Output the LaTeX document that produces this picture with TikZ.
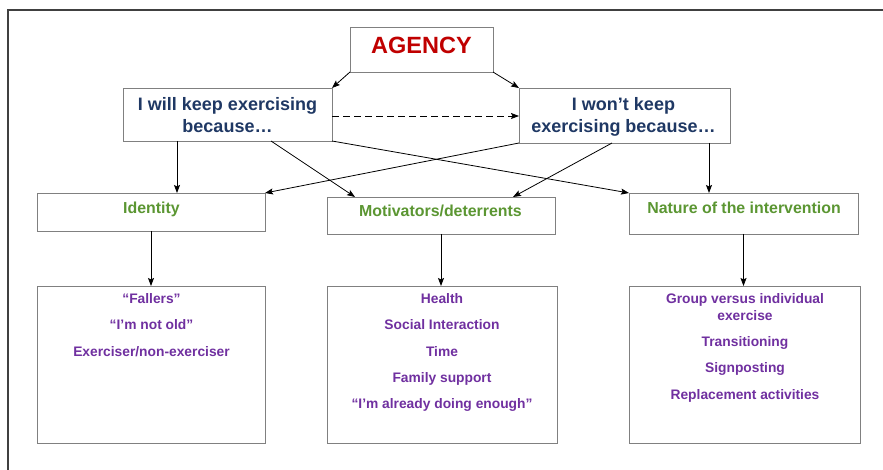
\documentclass[tikz,border=0pt]{standalone}
\usepackage{fontspec}
\setmainfont{Liberation Sans}
\usetikzlibrary{arrows.meta}
\definecolor{agred}{HTML}{C00000}
\definecolor{agblue}{HTML}{1F3864}
\definecolor{aggreen}{HTML}{5B9632}
\definecolor{agpurple}{HTML}{7030A0}
\definecolor{boxgray}{HTML}{808080}
\definecolor{framegray}{HTML}{404040}
\begin{document}
\begin{tikzpicture}[x=1pt,y=-1pt,
  box/.style={draw=boxgray, line width=0.9pt, inner sep=0pt, outer sep=0pt, fill=white},
  arr/.style={-{Stealth[length=8pt,width=6pt,inset=1.5pt]}, line width=0.8pt, black},
  titletxt/.style={font=\fontsize{23.5}{27}\selectfont\bfseries, text=agred, inner sep=0pt, anchor=base},
  headtxt/.style={font=\fontsize{18}{21.7}\selectfont\bfseries, text=agblue, inner sep=0pt, anchor=base, align=center},
  cattxt/.style={font=\fontsize{15.9}{19}\selectfont\bfseries, text=aggreen, inner sep=0pt, anchor=base},
  itemtxt/.style={font=\fontsize{13.8}{16.7}\selectfont\bfseries, text=agpurple, inner sep=0pt, anchor=base, align=center}]
\useasboundingbox (0,0) rectangle (883,470);
\fill[white] (0,0) rectangle (883,470);
% frame
\draw[framegray, line width=1.1pt] (8,470) -- (8,10) -- (883,10);
% boxes
\node[box, minimum width=143pt, minimum height=45pt] (ag) at (421.5,49.5) {};
\node[box, minimum width=209pt, minimum height=53pt] (will) at (227.5,114.5) {};
\node[box, minimum width=211pt, minimum height=55pt] (wont) at (624.5,115.5) {};
\node[box, minimum width=228pt, minimum height=38pt] (idb) at (151,212) {};
\node[box, minimum width=228pt, minimum height=37pt] (mot) at (441,215.5) {};
\node[box, minimum width=229pt, minimum height=41pt] (nat) at (743.5,213.5) {};
\node[box, minimum width=228pt, minimum height=157pt] (fal) at (151,364.5) {};
\node[box, minimum width=230pt, minimum height=157pt] (hea) at (442,364.5) {};
\node[box, minimum width=231pt, minimum height=157pt] (grp) at (744.5,364.5) {};
% texts (multi-line nodes: base anchor is the last line's baseline)
\node[titletxt] (agt) at (421.5,53.3) {AGENCY};
\node[headtxt] (willt) at (227.5,132.7) {I will keep exercising\\because…};
\node[headtxt] (wontt) at (623.5,132.7) {I won’t keep\\exercising because…};
\node[cattxt] (idt) at (151.5,213.4) {Identity};
\node[cattxt] (mott) at (440.5,216.7) {Motivators/deterrents};
\node[cattxt] (natt) at (744,213.3) {Nature of the intervention};
\node[itemtxt] (falt) at (151.5,356.1) {“Fallers”\\[9.7pt]“I’m not old”\\[9.7pt]Exerciser/non-exerciser};
\node[itemtxt] (heat) at (442,408.9) {Health\\[9.7pt]Social Interaction\\[9.7pt]Time\\[9.7pt]Family support\\[9.7pt]“I’m already doing enough”};
\node[itemtxt] (grpt) at (745,399.2) {Group versus individual\\exercise\\[9.7pt]Transitioning\\[9.7pt]Signposting\\[9.7pt]Replacement activities};
% connectors
\draw[arr] (ag.south west) -- (will.north east);
\draw[arr] (ag.south east) -- (wont.north west);
\draw[arr, dash pattern=on 7pt off 4pt] ([yshift=-1.5pt]will.east) -- ([yshift=-1.5pt]will.east -| wont.west);
\draw[arr] ([xshift=54pt]will.south west) -- ([xshift=140pt]idb.north west);
\draw[arr] ([xshift=148pt]will.south west) -- ([xshift=28pt]mot.north west);
\draw[arr] (will.south east) -- (nat.north west);
\draw[arr] (wont.south west) -- (idb.north east);
\draw[arr] ([xshift=93pt]wont.south west) -- ([xshift=-42pt]mot.north east);
\draw[arr] ([xshift=-21pt]wont.south east) -- ([xshift=80pt]nat.north west);
\draw[arr] (idb.south) -- (fal.north);
\draw[arr] (mot.south) -- (mot.south |- hea.north);
\draw[arr] (nat.south) -- (nat.south |- grp.north);
\end{tikzpicture}
\end{document}
